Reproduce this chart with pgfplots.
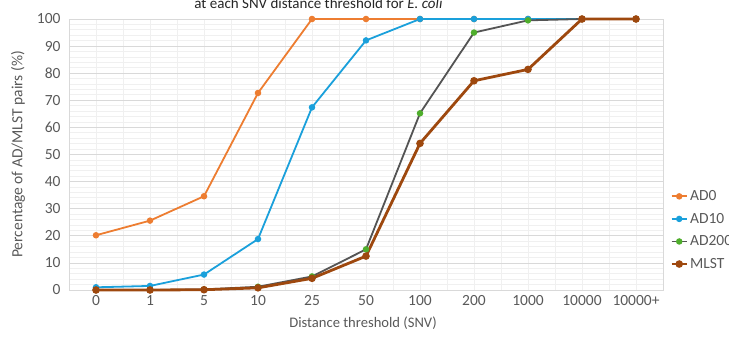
\documentclass[border=0pt]{standalone}
\usepackage{fontspec}
\setmainfont{Carlito}
\usepackage{pgfplots}
\pgfplotsset{compat=1.18}
\definecolor{cAD0}{HTML}{ED7D31}
\definecolor{cAD10}{HTML}{1AA0DB}
\definecolor{cAD200}{HTML}{545454}
\definecolor{cAD200m}{HTML}{4FAE2C}
\definecolor{cMLST}{HTML}{9E480E}
\definecolor{gmaj}{HTML}{D9D9D9}
\definecolor{gmin}{HTML}{F0F0F0}
\definecolor{txt}{HTML}{595959}
\begin{document}
\begin{tikzpicture}
\path[use as bounding box] (-69pt,-48pt) rectangle (660pt,290pt);
\clip (-69pt,-48pt) rectangle (660pt,290pt);
\begin{axis}[
  scale only axis, width=594pt, height=271pt,
  xmin=-0.5, xmax=10.5, ymin=0, ymax=100,
  xtick={0,...,10},
  xticklabels={0,1,5,10,25,50,100,200,1000,10000,10000+},
  minor xtick={0.5,1.5,...,9.5},
  ytick={0,10,...,100},
  minor y tick num=4,
  grid=both,
  major grid style={gmaj, line width=0.8pt},
  minor grid style={gmin, line width=0.8pt},
  x grid style={gmin, line width=0.8pt},
  axis line style={gmaj, line width=0.8pt},
  tick style={draw=none},
  /pgf/number format/assume math mode=true,
  ticklabel style={font=\fontsize{15.5}{17}\selectfont, text=txt},
  yticklabel style={xshift=-5pt},
  xticklabel style={yshift=-2pt},
  xlabel={Distance threshold (SNV)},
  ylabel={Percentage of AD/MLST pairs (\%)},
  xlabel style={font=\fontsize{14.6}{16}\selectfont, text=txt, at={(axis description cs:0.495,-0.122)}, anchor=center},
  ylabel style={font=\fontsize{15.5}{17}\selectfont, text=txt, at={(axis description cs:-0.086,0.5)}, anchor=center},
  title={at each SNV distance threshold for \textit{E. coli}},
  title style={font=\fontsize{15}{17}\selectfont, text=black!85, at={(axis description cs:0.42,1.015)}, anchor=base},
  legend style={draw=none, fill=none, font=\fontsize{15.5}{17}\selectfont, text=txt,
    at={(axis description cs:1.012,0.375)}, anchor=north west,
    row sep=7pt, inner sep=0pt, cells={anchor=west}},
  legend image code/.code={\draw[mark repeat=2,mark phase=2,#1] plot coordinates {(0pt,0pt) (7.5pt,0pt) (15pt,0pt)};},
  every axis plot/.append style={mark=*, mark size=2.3pt},
  clip=false,
]
\addplot[cAD0, line width=1.8pt, mark options={fill=cAD0, draw=cAD0}] coordinates {
  (0,20.2) (1,25.6) (2,34.6) (3,72.7) (4,100) (5,100) (6,100) (7,100) (8,100) (9,100) (10,100)};
\addlegendentry{AD0}
\addplot[cAD10, line width=1.8pt, mark options={fill=cAD10, draw=cAD10}] coordinates {
  (0,1.0) (1,1.5) (2,5.7) (3,18.8) (4,67.4) (5,92.1) (6,100) (7,100) (8,100) (9,100) (10,100)};
\addlegendentry{AD10}
\addplot[cAD200, line width=1.8pt, mark options={fill=cAD200m, draw=cAD200m}] coordinates {
  (0,0) (1,0) (2,0.2) (3,1.2) (4,5.0) (5,15.0) (6,65.2) (7,95.0) (8,99.5) (9,100) (10,100)};
\addlegendentry{AD200}
\addplot[cMLST, line width=2.8pt, mark options={fill=cMLST, draw=cMLST}] coordinates {
  (0,0) (1,0) (2,0.1) (3,0.8) (4,4.3) (5,12.5) (6,54.1) (7,77.2) (8,81.4) (9,100) (10,100)};
\addlegendentry{MLST}
\end{axis}
\end{tikzpicture}
\end{document}
